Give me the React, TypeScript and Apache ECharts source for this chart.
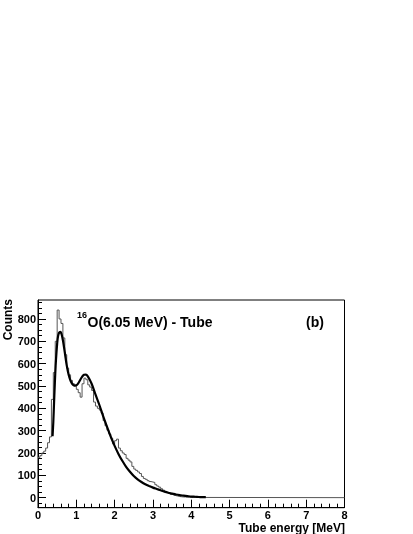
import React, { useEffect, useRef } from "react";
import * as echarts from "echarts";

// Histogram: counts per 0.05 MeV bin, starting at 0 MeV
const BIN_WIDTH = 0.05;
const histCounts = [
  180, 188, 200, 208, 222, 246, 272, 440, 560, 700,
  840, 800, 780, 715, 640, 580, 550, 525, 510, 500,
  485, 470, 450, 510, 535, 528, 505, 495, 480, 428,
  410, 400, 392, 378, 345, 322, 302, 285, 266, 240,
  255, 262, 222, 210, 200, 193, 176, 168, 160, 140,
  128, 122, 115, 108, 95, 86, 82, 76, 72, 70,
  68, 58, 52, 47, 40, 34, 28, 24, 19, 15,
  12, 9, 7, 5, 4, 3, 3, 2, 2, 1,
  1, 1,
];
const histEnd = 8;

// Fit curve samples
const fitX = [
  0.38, 0.4, 0.42, 0.44, 0.46, 0.48, 0.5, 0.52, 0.55, 0.58,
  0.61, 0.65, 0.7, 0.75, 0.8, 0.85, 0.9, 0.95, 1.0, 1.05,
  1.1, 1.15, 1.2, 1.25, 1.3, 1.4, 1.5, 1.6, 1.7, 1.8,
  1.9, 2.0, 2.1, 2.2, 2.3, 2.4, 2.5, 2.6, 2.7, 2.8,
  2.9, 3.0, 3.1, 3.2, 3.3, 3.4, 3.5, 3.6, 3.7, 3.8,
  3.9, 4.0, 4.1, 4.2, 4.3, 4.38,
];
const fitY = [
  275, 340, 430, 515, 590, 645, 690, 720, 738, 742,
  735, 705, 650, 592, 550, 523, 508, 502, 503, 512,
  527, 541, 550, 551, 543, 510, 462, 416, 365, 318,
  272, 232, 196, 165, 138, 116, 97, 82, 70, 60,
  52, 45, 39, 33, 27, 22, 18, 14, 11, 9,
  7, 5, 4, 3, 2, 2,
];

const yMajorTicks = [0, 100, 200, 300, 400, 500, 600, 700, 800];
const FONT = "'Liberation Sans', Arial, Helvetica, sans-serif";

export default function App() {
  const ref = useRef<HTMLDivElement>(null);

  useEffect(() => {
    if (!ref.current) return;
    const chart = echarts.init(ref.current, null, { renderer: "svg" });

    const histData: number[][] = histCounts.map((c, i) => [
      +(i * BIN_WIDTH).toFixed(3),
      c,
    ]);
    const lastEdge = +(histCounts.length * BIN_WIDTH).toFixed(3);
    histData.push([lastEdge, 0]);
    histData.push([histEnd, 0]);

    const fitData = fitX.map((x, i) => [x, fitY[i]]);

    const yMinorTicks: number[] = [];
    for (let v = -25; v <= 875; v += 25) {
      if (v % 100 !== 0) yMinorTicks.push(v);
    }

    const labelStyle = {
      color: "#000",
      fontFamily: FONT,
      fontWeight: "bold" as const,
      fontSize: 11,
      lineHeight: 11,
    };

    chart.setOption({
      animation: false,
      grid: {
        left: 38,
        right: 68.5,
        top: 300,
        bottom: 26.3,
        show: true,
        borderColor: "#000",
        borderWidth: 1,
        backgroundColor: "transparent",
      },
      xAxis: {
        type: "value",
        min: 0,
        max: 8,
        interval: 1,
        axisLine: { show: true, onZero: false, lineStyle: { color: "#000", width: 1 } },
        axisTick: { show: true, inside: true, length: 8, lineStyle: { color: "#000" } },
        minorTick: { show: true, splitNumber: 5, length: 4, lineStyle: { color: "#000" } },
        axisLabel: { ...labelStyle, margin: 2 },
        splitLine: { show: false },
      },
      yAxis: [
        {
          type: "value",
          min: -45,
          max: 885,
          axisLine: { show: true, onZero: false, lineStyle: { color: "#000", width: 1 } },
          axisTick: {
            show: true,
            inside: true,
            length: 8,
            customValues: yMajorTicks,
            lineStyle: { color: "#000" },
          },
          axisLabel: { ...labelStyle, margin: 2, customValues: yMajorTicks },
          splitLine: { show: false },
        },
        {
          type: "value",
          min: -45,
          max: 885,
          position: "left",
          axisLine: { show: false },
          axisTick: {
            show: true,
            inside: true,
            length: 4,
            customValues: yMinorTicks,
            lineStyle: { color: "#000" },
          },
          axisLabel: { show: false },
          splitLine: { show: false },
        },
      ],
      series: [
        {
          type: "line",
          name: "histogram",
          data: histData,
          step: "end",
          showSymbol: false,
          symbol: "none",
          yAxisIndex: 0,
          lineStyle: { color: "#555", width: 1 },
          z: 2,
        },
        {
          type: "line",
          name: "fit",
          data: fitData,
          smooth: 0.3,
          showSymbol: false,
          symbol: "none",
          yAxisIndex: 0,
          lineStyle: { color: "#000", width: 2.2 },
          z: 3,
        },
      ],
      graphic: [
        {
          type: "text",
          x: 77,
          y: 315,
          style: {
            text: "16",
            fontFamily: FONT,
            fontWeight: "bold",
            fontSize: 9,
            fill: "#000",
            align: "left",
            verticalAlign: "middle",
          },
        },
        {
          type: "text",
          x: 87.5,
          y: 321.6,
          style: {
            text: "O(6.05 MeV) - Tube",
            fontFamily: FONT,
            fontWeight: "bold",
            fontSize: 14,
            fill: "#000",
            align: "left",
            verticalAlign: "middle",
          },
        },
        {
          type: "text",
          x: 306,
          y: 321.6,
          style: {
            text: "(b)",
            fontFamily: FONT,
            fontWeight: "bold",
            fontSize: 14,
            fill: "#000",
            align: "left",
            verticalAlign: "middle",
          },
        },
        {
          type: "text",
          x: 8,
          y: 299,
          rotation: Math.PI / 2,
          style: {
            text: "Counts",
            fontFamily: FONT,
            fontWeight: "bold",
            fontSize: 12,
            fill: "#000",
            align: "right",
            verticalAlign: "middle",
          },
        },
        {
          type: "text",
          x: 345,
          y: 528,
          style: {
            text: "Tube energy [MeV]",
            fontFamily: FONT,
            fontWeight: "bold",
            fontSize: 12,
            lineHeight: 12,
            fill: "#000",
            align: "right",
            verticalAlign: "middle",
          },
        },
      ],
    });

    return () => chart.dispose();
  }, []);

  return (
    <div
      ref={ref}
      style={{ position: "fixed", left: 0, top: 0, width: 413, height: 534 }}
    />
  );
}
